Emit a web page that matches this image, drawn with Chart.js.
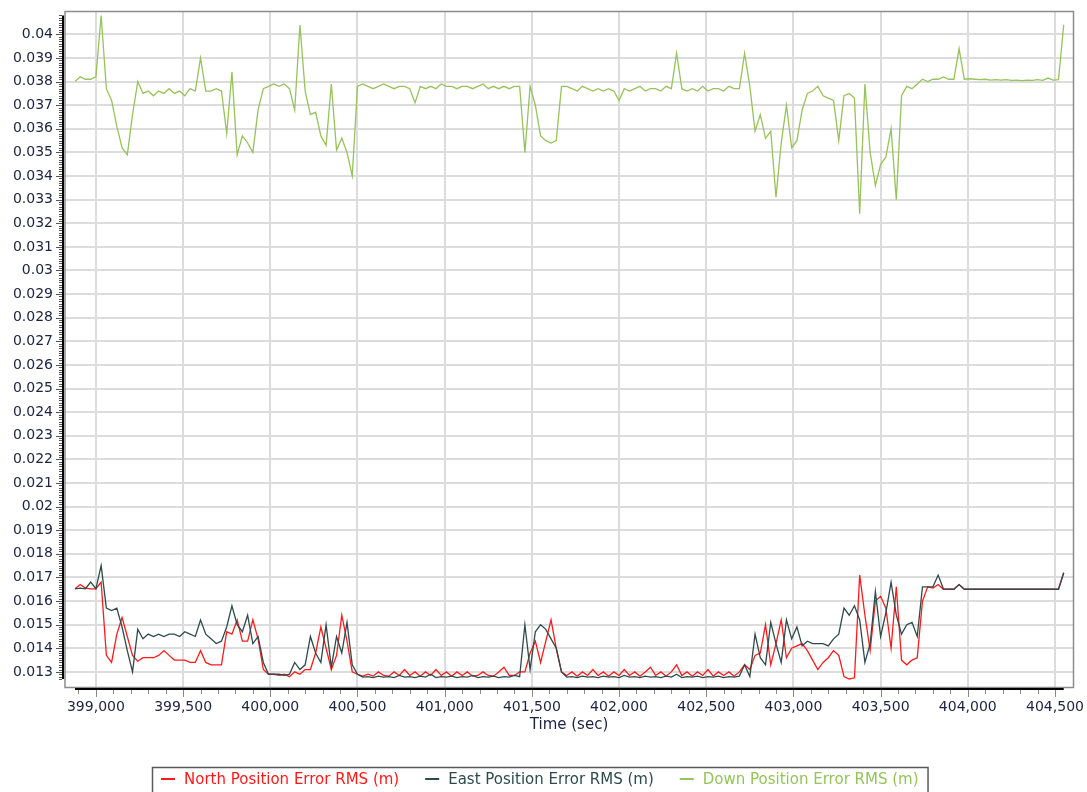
<!DOCTYPE html>
<html>
<head>
<meta charset="utf-8">
<title>Position Error RMS</title>
<script src="https://cdn.jsdelivr.net/npm/chart.js@4.4.1/dist/chart.umd.min.js"></script>
<style>
  html, body { margin: 0; padding: 0; background: #fff; }
  #wrap { position: relative; width: 1087px; height: 792px; }
</style>
</head>
<body>
<div id="wrap"><canvas id="rms-chart"></canvas></div>
<script>
// time base of the solution log, one sample every 30 s
var sampleStart = 398880;
var sampleStep = 30;

var northRms = [
  0.01652, 0.0167, 0.01655, 0.01652, 0.01652, 0.0168, 0.0137, 0.0134, 0.0146, 0.0153,
  0.0145, 0.0137, 0.01345, 0.0136, 0.0136, 0.0136, 0.0137, 0.0139, 0.0137, 0.0135,
  0.0135, 0.0135, 0.0134, 0.0134, 0.0139, 0.0134, 0.0133, 0.0133, 0.0133, 0.0147,
  0.0146, 0.0152, 0.0143, 0.0143, 0.0152, 0.0144, 0.0131, 0.0129, 0.0129, 0.01285,
  0.0129, 0.0128, 0.0130, 0.0129, 0.0131, 0.0131, 0.0138, 0.0149, 0.0140, 0.0131,
  0.0137, 0.0154, 0.0143, 0.0130, 0.0129, 0.01282, 0.0129, 0.01282, 0.0130, 0.01285,
  0.01282, 0.0130, 0.01285, 0.0131, 0.01285, 0.0130, 0.01282, 0.0130, 0.01285, 0.0131,
  0.01285, 0.0130, 0.01282, 0.0130, 0.01285, 0.0130, 0.01282, 0.01285, 0.0130, 0.01285,
  0.01282, 0.0130, 0.0132, 0.01285, 0.01285, 0.0130, 0.0130, 0.0138, 0.0143, 0.0134,
  0.0143, 0.0152, 0.0140, 0.0130, 0.01285, 0.0130, 0.01282, 0.0130, 0.01285, 0.0131,
  0.01285, 0.0130, 0.01282, 0.0130, 0.01285, 0.0131, 0.01285, 0.0130, 0.01282, 0.0130,
  0.0132, 0.01285, 0.0130, 0.01282, 0.0130, 0.0133, 0.01285, 0.0130, 0.01282, 0.0130,
  0.01285, 0.0131, 0.01282, 0.0130, 0.01285, 0.0130, 0.01282, 0.0130, 0.0133, 0.0131,
  0.0137, 0.0138, 0.0150, 0.0133, 0.0142, 0.0152, 0.0136, 0.0140, 0.0141, 0.0142,
  0.0139, 0.0135, 0.0131, 0.0134, 0.0136, 0.0139, 0.0137, 0.0128, 0.0127, 0.01275,
  0.0171, 0.0154, 0.0139, 0.0160, 0.0162, 0.0157, 0.0140, 0.0166, 0.0135, 0.0133,
  0.0135, 0.0136, 0.0160, 0.0166, 0.01655, 0.0167, 0.0165, 0.0165, 0.0165, 0.0167,
  0.0165, 0.0165, 0.0165, 0.0165, 0.0165, 0.0165, 0.0165, 0.0165, 0.0165, 0.0165,
  0.0165, 0.0165, 0.0165, 0.0165, 0.0165, 0.0165, 0.0165, 0.0165, 0.0165, 0.0172
];

var eastRms = [
  0.01652, 0.01655, 0.01652, 0.0168, 0.01652, 0.0175, 0.0157, 0.0156, 0.0157, 0.0149,
  0.0139, 0.0130, 0.0148, 0.0144, 0.0146, 0.0145, 0.0146, 0.0145, 0.0146, 0.0146,
  0.0145, 0.0147, 0.0146, 0.0145, 0.0152, 0.0146, 0.0144, 0.0142, 0.0143, 0.0149,
  0.0158, 0.0150, 0.0147, 0.0154, 0.0142, 0.0145, 0.0134, 0.0129, 0.0129, 0.0129,
  0.01285, 0.0129, 0.0134, 0.0131, 0.0133, 0.0145, 0.0138, 0.0134, 0.0150, 0.0132,
  0.0145, 0.0138, 0.0151, 0.0133, 0.0129, 0.01278, 0.0128, 0.01276, 0.01282, 0.01278,
  0.0128, 0.01276, 0.01285, 0.01278, 0.0128, 0.01276, 0.01282, 0.01278, 0.0129, 0.01276,
  0.0128, 0.01278, 0.01282, 0.01276, 0.0128, 0.01278, 0.01285, 0.01276, 0.0128, 0.01278,
  0.01282, 0.01276, 0.0128, 0.01278, 0.01285, 0.0128, 0.0150, 0.0131, 0.0147, 0.0150,
  0.0148, 0.0144, 0.0140, 0.0130, 0.01278, 0.0128, 0.01276, 0.01282, 0.01278, 0.0128,
  0.01276, 0.01282, 0.01278, 0.0128, 0.01276, 0.01285, 0.01278, 0.0128, 0.01276, 0.01282,
  0.01278, 0.0128, 0.01276, 0.01282, 0.01278, 0.0129, 0.01276, 0.0128, 0.01278, 0.01282,
  0.01276, 0.0128, 0.01278, 0.01282, 0.01276, 0.0128, 0.01278, 0.01282, 0.0133, 0.0128,
  0.0146, 0.0136, 0.0133, 0.0151, 0.0142, 0.0134, 0.0152, 0.0144, 0.0149, 0.0141,
  0.0143, 0.0142, 0.0142, 0.0142, 0.0141, 0.0144, 0.0146, 0.0157, 0.0154, 0.0158,
  0.0152, 0.0134, 0.0142, 0.0164, 0.0145, 0.0155, 0.0168, 0.0154, 0.0146, 0.0150,
  0.0151, 0.0145, 0.0166, 0.0166, 0.0166, 0.0171, 0.01652, 0.0165, 0.0165, 0.0167,
  0.0165, 0.0165, 0.0165, 0.0165, 0.0165, 0.0165, 0.0165, 0.0165, 0.0165, 0.0165,
  0.0165, 0.0165, 0.0165, 0.0165, 0.0165, 0.0165, 0.0165, 0.0165, 0.0165, 0.0172
];

var downRms = [
  0.0380, 0.0382, 0.0381, 0.0381, 0.0382, 0.0408, 0.0377, 0.0372, 0.0361, 0.0352,
  0.0349, 0.0366, 0.0380, 0.0375, 0.0376, 0.0374, 0.0376, 0.0375, 0.0377, 0.0375,
  0.0376, 0.0374, 0.0377, 0.0376, 0.0390, 0.0376, 0.0376, 0.0377, 0.0376, 0.0358,
  0.0384, 0.0349, 0.0357, 0.0354, 0.0350, 0.0368, 0.0377, 0.0378, 0.0379, 0.0378,
  0.0379, 0.0377, 0.0368, 0.0404, 0.0376, 0.0366, 0.0367, 0.0357, 0.0353, 0.0379,
  0.0351, 0.0356, 0.0350, 0.0340, 0.0378, 0.0379, 0.0378, 0.0377, 0.0378, 0.0379,
  0.0378, 0.0377, 0.0378, 0.0378, 0.0377, 0.0371, 0.0378, 0.0377, 0.0378, 0.0377,
  0.0379, 0.0378, 0.0378, 0.0377, 0.0378, 0.0378, 0.0377, 0.0378, 0.0379, 0.0377,
  0.0378, 0.0377, 0.0378, 0.0377, 0.0378, 0.0378, 0.0350, 0.0378, 0.0370, 0.0357,
  0.0355, 0.0354, 0.0355, 0.0378, 0.0378, 0.0377, 0.0376, 0.0378, 0.0377, 0.0376,
  0.0377, 0.0376, 0.0377, 0.0376, 0.0372, 0.0377, 0.0376, 0.0377, 0.0378, 0.0376,
  0.0377, 0.0377, 0.0376, 0.0378, 0.0377, 0.0392, 0.0377, 0.0376, 0.0377, 0.0376,
  0.0378, 0.0376, 0.0377, 0.0377, 0.0376, 0.0378, 0.0377, 0.0377, 0.0392, 0.0378,
  0.0359, 0.0366, 0.0356, 0.0359, 0.0331, 0.0354, 0.0370, 0.0352, 0.0355, 0.0368,
  0.0375, 0.0376, 0.0378, 0.0374, 0.0373, 0.0372, 0.0355, 0.0374, 0.0375, 0.0373,
  0.0324, 0.0379, 0.0350, 0.0336, 0.0345, 0.0348, 0.0360, 0.0330, 0.0374, 0.0378,
  0.0377, 0.0379, 0.0381, 0.0380, 0.0381, 0.0381, 0.0382, 0.0381, 0.0381, 0.0394,
  0.0381, 0.03812, 0.0381, 0.03808, 0.0381, 0.03806, 0.03808, 0.03806, 0.03808, 0.03805,
  0.03806, 0.03804, 0.03806, 0.03805, 0.03808, 0.03805, 0.03815, 0.03806, 0.03808, 0.0404
];

var seriesLabels = ['North Position Error RMS (m)', 'East Position Error RMS (m)', 'Down Position Error RMS (m)'];
var seriesColors = ['#ff1a1a', '#2f4a4a', '#96c35a'];

var xTicks = [399000, 399500, 400000, 400500, 401000, 401500, 402000, 402500, 403000, 403500, 404000, 404500];
var yTicks = [
  0.013, 0.014, 0.015, 0.016, 0.017, 0.018, 0.019, 0.020, 0.021, 0.022, 0.023, 0.024, 0.025, 0.026,
  0.027, 0.028, 0.029, 0.030, 0.031, 0.032, 0.033, 0.034, 0.035, 0.036, 0.037, 0.038, 0.039, 0.040
];
var xRange = [398817, 404609];
var yRange = [0.01236, 0.04099];
var xMinor = 100;
var yMinor = 0.0001;

var FONT = '"DejaVu Sans", Verdana, sans-serif';
var TEXT = '#1e2140';

var times = northRms.map(function(_, i) { return sampleStart + i * sampleStep; });

function toPoints(values) {
  return values.map(function(v, i) { return { x: times[i], y: v }; });
}

function line(ctx, x1, y1, x2, y2) {
  ctx.beginPath();
  ctx.moveTo(x1, y1);
  ctx.lineTo(x2, y2);
  ctx.stroke();
}

// plot frame, black axis lines over the data extent, minor ticks and the boxed legend
var frameAndLegend = {
  id: 'frameAndLegend',
  beforeDatasetsDraw: function(chart) {
    var ctx = chart.ctx, a = chart.chartArea;
    ctx.save();
    ctx.strokeStyle = '#8c8c8c';
    ctx.lineWidth = 1.5;
    ctx.strokeRect(a.left + 1, a.top + 0.5, a.right - a.left - 1.5, a.bottom - a.top);
    ctx.restore();
  },
  afterDraw: function(chart) {
    var ctx = chart.ctx, a = chart.chartArea;
    var xs = chart.scales.x, ys = chart.scales.y;
    var all = northRms.concat(eastRms, downRms);
    var yLo = Math.min.apply(null, all), yHi = Math.max.apply(null, all);
    var tLo = times[0], tHi = times[times.length - 1];
    var axX = a.left - 1, axY = a.bottom + 2;

    ctx.save();
    ctx.strokeStyle = '#000';
    ctx.lineWidth = 2;
    line(ctx, axX, ys.getPixelForValue(yHi), axX, ys.getPixelForValue(yLo));
    line(ctx, xs.getPixelForValue(tLo), axY, xs.getPixelForValue(tHi), axY);

    ctx.lineWidth = 1;
    ctx.strokeStyle = '#555';
    for (var k = Math.ceil(yLo / yMinor); k * yMinor <= yHi; k++) {
      var py = Math.round(ys.getPixelForValue(k * yMinor)) + 0.5;
      var len = (k % 10 === 0) ? 6 : 3;
      line(ctx, axX - 1 - len, py, axX - 1, py);
    }
    ctx.strokeStyle = '#8a8a8a';
    for (var t = Math.ceil(tLo / xMinor) * xMinor; t <= tHi; t += xMinor) {
      var px = Math.round(xs.getPixelForValue(t)) + 0.5;
      var tl = (xTicks.indexOf(t) >= 0) ? 7 : 4;
      line(ctx, px, axY + 1, px, axY + 1 + tl);
    }

    // legend
    ctx.font = '15px ' + FONT;
    ctx.textBaseline = 'middle';
    var mark = 14, gapText = 9, gapItem = 26, pad = 9;
    var widths = seriesLabels.map(function(s) { return ctx.measureText(s).width; });
    var total = widths.reduce(function(s, w) { return s + mark + gapText + w; }, 0) + gapItem * (seriesLabels.length - 1);
    var x0 = Math.round(540 - total / 2);
    var ly = 779;
    ctx.strokeStyle = '#5a5a5a';
    ctx.lineWidth = 1.5;
    ctx.strokeRect(x0 - pad + 0.5, 767.5, total + pad * 2, 40);
    var x = x0;
    for (var i = 0; i < seriesLabels.length; i++) {
      ctx.strokeStyle = seriesColors[i];
      ctx.lineWidth = 2;
      line(ctx, x, ly, x + mark, ly);
      ctx.fillStyle = seriesColors[i];
      ctx.fillText(seriesLabels[i], x + mark + gapText, ly + 1);
      x += mark + gapText + widths[i] + gapItem;
    }
    ctx.restore();
  }
};

var chart = new Chart(document.getElementById('rms-chart'), {
  type: 'line',
  data: {
    datasets: [
      { label: seriesLabels[0], data: toPoints(northRms), borderColor: seriesColors[0], order: 1 },
      { label: seriesLabels[1], data: toPoints(eastRms), borderColor: seriesColors[1], order: 0 },
      { label: seriesLabels[2], data: toPoints(downRms), borderColor: seriesColors[2], order: 2 }
    ]
  },
  options: {
    responsive: true,
    maintainAspectRatio: false,
    animation: false,
    layout: { padding: { top: 11, right: 13, left: 0, bottom: 0 } },
    elements: {
      line: { borderWidth: 1.3, tension: 0, fill: false },
      point: { radius: 0, hoverRadius: 0 }
    },
    plugins: { legend: { display: false }, tooltip: { enabled: false } },
    scales: {
      x: {
        type: 'linear',
        min: xRange[0],
        max: xRange[1],
        afterBuildTicks: function(s) { s.ticks = xTicks.map(function(v) { return { value: v }; }); },
        afterFit: function(s) { s.height = 105; s.paddingLeft = 0; s.paddingRight = 0; },
        border: { display: false },
        grid: { color: '#dcdcdc', lineWidth: 2, drawTicks: false },
        ticks: {
          autoSkip: false,
          maxRotation: 0,
          padding: 12,
          color: TEXT,
          font: { family: FONT, size: 14 },
          callback: function(v) { return v.toLocaleString('en-US'); }
        },
        title: {
          display: true,
          text: 'Time (sec)',
          color: TEXT,
          font: { family: FONT, size: 15 },
          padding: { top: 0, bottom: 58 }
        }
      },
      y: {
        min: yRange[0],
        max: yRange[1],
        afterBuildTicks: function(s) { s.ticks = yTicks.map(function(v) { return { value: v }; }); },
        afterFit: function(s) { s.width = 64; s.paddingTop = 0; s.paddingBottom = 0; },
        border: { display: false },
        grid: { color: '#dcdcdc', lineWidth: 2, drawTicks: false },
        ticks: {
          autoSkip: false,
          padding: 11,
          color: TEXT,
          font: { family: FONT, size: 14 },
          callback: function(v) { return String(+v.toFixed(3)); }
        }
      }
    }
  },
  plugins: [frameAndLegend]
});
</script>
</body>
</html>
